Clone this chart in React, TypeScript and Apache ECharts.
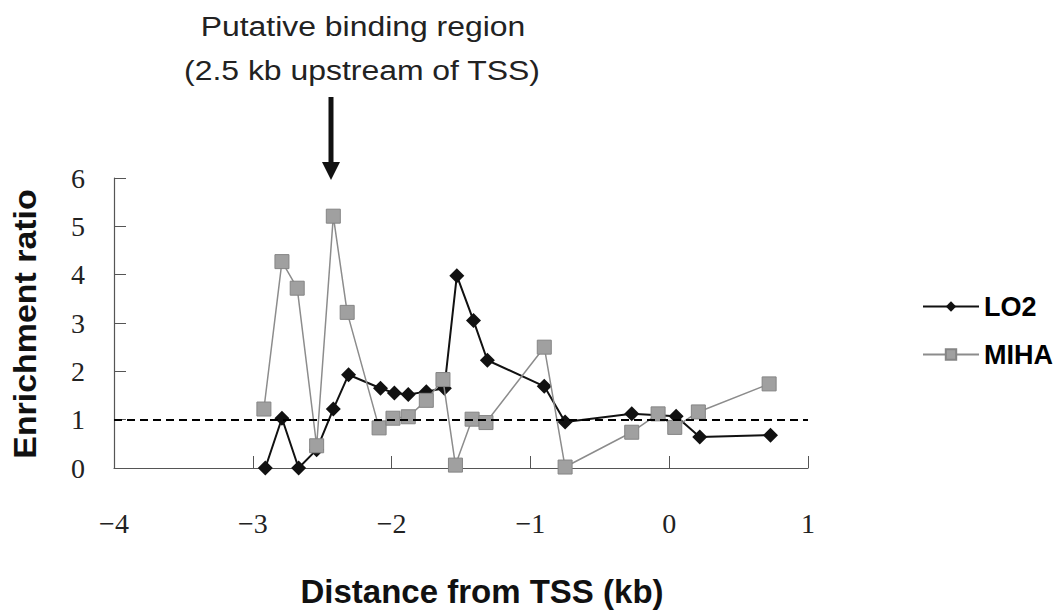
import React, { useEffect, useRef } from "react";
import * as echarts from "echarts";

const lo2X = [-2.91, -2.79, -2.67, -2.54, -2.42, -2.31, -2.08, -1.98, -1.88, -1.75, -1.62, -1.53, -1.41, -1.31, -0.9, -0.75, -0.27, 0.05, 0.22, 0.73];
const lo2Y = [0.0, 1.03, 0.0, 0.38, 1.22, 1.93, 1.65, 1.55, 1.52, 1.58, 1.65, 3.98, 3.05, 2.23, 1.69, 0.95, 1.12, 1.07, 0.64, 0.68];
const mihaX = [-2.92, -2.79, -2.68, -2.54, -2.42, -2.32, -2.09, -1.99, -1.88, -1.75, -1.63, -1.54, -1.42, -1.32, -0.9, -0.75, -0.27, -0.08, 0.04, 0.21, 0.72];
const mihaY = [1.22, 4.27, 3.72, 0.46, 5.21, 3.22, 0.83, 1.03, 1.06, 1.4, 1.83, 0.06, 1.01, 0.94, 2.5, 0.02, 0.74, 1.12, 0.84, 1.16, 1.74];
const seriesNames = ["LO2", "MIHA"];
const xTicks = [-4, -3, -2, -1, 0, 1];
const yTicks = [0, 1, 2, 3, 4, 5, 6];
const referenceLevel = 1;
const annotationLines = ["Putative binding region", "(2.5 kb upstream of TSS)"];
const xTitle = "Distance from TSS (kb)";
const yTitle = "Enrichment ratio";

export default function App() {
  const ref = useRef<HTMLDivElement>(null);
  useEffect(() => {
    if (!ref.current) return;
    const chart = echarts.init(ref.current, undefined, { renderer: "svg" });
    const serif = "'Liberation Serif', 'DejaVu Serif', serif";
    const sans = "'Liberation Sans', Arial, sans-serif";
    chart.setOption({
      animation: false,
      backgroundColor: "#ffffff",
      grid: { left: 114, right: 248, top: 178, bottom: 146, containLabel: false },
      xAxis: {
        type: "value",
        min: xTicks[0],
        max: xTicks[xTicks.length - 1],
        interval: 1,
        axisLine: { show: true, onZero: false, lineStyle: { color: "#555", width: 1.2 } },
        axisTick: { show: true, inside: true, length: 12, lineStyle: { color: "#555" } },
        splitLine: { show: false },
        axisLabel: {
          margin: 41,
          fontFamily: serif,
          fontSize: 28,
          color: "#222",
          formatter: (v: number) => (v < 0 ? "\u2212" + Math.abs(v) : String(v)),
        },
      },
      yAxis: {
        type: "value",
        min: yTicks[0],
        max: yTicks[yTicks.length - 1],
        interval: 1,
        axisLine: { show: true, onZero: false, lineStyle: { color: "#555", width: 1.2 } },
        axisTick: { show: true, inside: true, length: 12, lineStyle: { color: "#555" } },
        splitLine: { show: false },
        axisLabel: { margin: 29, fontFamily: serif, fontSize: 28, color: "#222" },
      },
      legend: {
        orient: "vertical",
        left: 917,
        top: 288,
        itemWidth: 56,
        itemHeight: 13,
        itemGap: 21,
        textStyle: { fontFamily: sans, fontWeight: "bold", fontSize: 27, color: "#000" },
        data: seriesNames,
      },
      series: [
        {
          name: seriesNames[0],
          type: "line",
          data: lo2X.map((x, i) => [x, lo2Y[i]]),
          symbol: "diamond",
          symbolSize: 15,
          itemStyle: { color: "#111" },
          lineStyle: { color: "#111", width: 2 },
          z: 2,
          markLine: {
            silent: true,
            symbol: "none",
            label: { show: false },
            lineStyle: { color: "#000", type: [8, 5], width: 2 },
            data: [{ yAxis: referenceLevel }],
          },
        },
        {
          name: seriesNames[1],
          type: "line",
          data: mihaX.map((x, i) => [x, mihaY[i]]),
          symbol: "rect",
          symbolSize: 14,
          itemStyle: { color: "#a0a0a0", borderColor: "#858585", borderWidth: 1 },
          lineStyle: { color: "#8c8c8c", width: 1.5 },
          z: 3,
        },
      ],
      graphic: [
        {
          type: "text",
          x: 363,
          y: 26,
          scaleX: 1.14,
          style: {
            text: annotationLines[0],
            fontFamily: sans,
            fontSize: 28,
            fill: "#222",
            align: "center",
            verticalAlign: "middle",
          },
        },
        {
          type: "text",
          x: 362,
          y: 70,
          scaleX: 1.14,
          style: {
            text: annotationLines[1],
            fontFamily: sans,
            fontSize: 28,
            fill: "#222",
            align: "center",
            verticalAlign: "middle",
          },
        },
        {
          type: "rect",
          shape: { x: 328.5, y: 97, width: 5, height: 68 },
          style: { fill: "#111" },
        },
        {
          type: "polygon",
          shape: { points: [[322, 162], [340, 162], [331, 180]] },
          style: { fill: "#111" },
        },
        {
          type: "text",
          x: 482,
          y: 591,
          style: {
            text: xTitle,
            fontFamily: sans,
            fontWeight: "bold",
            fontSize: 33,
            fill: "#111",
            align: "center",
            verticalAlign: "middle",
          },
        },
        {
          type: "text",
          x: 25,
          y: 324,
          rotation: Math.PI / 2,
          scaleX: 1.06,
          style: {
            text: yTitle,
            fontFamily: sans,
            fontWeight: "bold",
            fontSize: 32,
            fill: "#111",
            align: "center",
            verticalAlign: "middle",
          },
        },
      ],
    });
    return () => chart.dispose();
  }, []);
  return (
    <div
      ref={ref}
      style={{ position: "absolute", left: 0, top: 0, width: 1056, height: 614, background: "#fff" }}
    />
  );
}
